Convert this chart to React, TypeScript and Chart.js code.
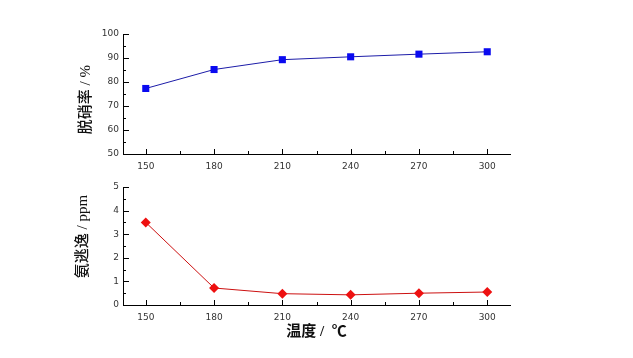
import React, { useEffect, useRef } from "react";
import { Chart, registerables } from "chart.js";

Chart.register(...registerables);

const temps = [150, 180, 210, 240, 270, 300];
const denitration = [77.3, 85.2, 89.3, 90.5, 91.6, 92.6];
const ammoniaSlip = [3.5, 0.72, 0.48, 0.43, 0.5, 0.55];
const xTickLabels = [150, 180, 210, 240, 270, 300];
const topYTickLabels = [50, 60, 70, 80, 90, 100];
const bottomYTickLabels = [0, 1, 2, 3, 4, 5];

const W = 633;
const TICK_FONT = { family: "'DejaVu Sans', sans-serif", size: 9 };
const TITLE_FONT = { family: "'Liberation Serif', 'Noto Sans CJK SC', serif", size: 15, weight: "500" as any };

function withMinor(major: number[]) {
  const out: number[] = [];
  for (let i = 0; i < major.length; i++) {
    out.push(major[i]);
    if (i < major.length - 1) out.push((major[i] + major[i + 1]) / 2);
  }
  return out;
}

const inwardTicks = {
  id: "inwardTicks",
  afterDraw(chart: any, _args: any, opts: any) {
    const ctx = chart.ctx;
    const area = chart.chartArea;
    ctx.save();
    ctx.strokeStyle = "#000";
    ctx.lineWidth = 1;
    const xs = chart.scales.x;
    for (const t of xs.ticks) {
      const px = Math.round(xs.getPixelForValue(t.value)) + 0.5;
      const len = opts.xMajor.includes(t.value) ? 5 : 3;
      ctx.beginPath();
      ctx.moveTo(px, area.bottom);
      ctx.lineTo(px, area.bottom - len);
      ctx.stroke();
    }
    const ys = chart.scales.y;
    for (const t of ys.ticks) {
      const py = Math.round(ys.getPixelForValue(t.value)) + 0.5;
      const len = opts.yMajor.includes(t.value) ? 6 : 3;
      ctx.beginPath();
      ctx.moveTo(area.left, py);
      ctx.lineTo(area.left + len, py);
      ctx.stroke();
    }
    ctx.restore();
  },
};

function makeConfig(opts: {
  data: number[];
  yMajor: number[];
  yMin: number;
  yMax: number;
  yTitle: string;
  xTitle?: string;
  lineColor: string;
  pointColor: string;
  pointStyle: string;
  pointRadius: number;
  padding: any;
  xHeight: number;
}) {
  const yTicksAll = withMinor(opts.yMajor);
  const xTicksAll = withMinor(xTickLabels);
  return {
    type: "line" as const,
    data: {
      datasets: [
        {
          data: temps.map((t, i) => ({ x: t, y: opts.data[i] })),
          borderColor: opts.lineColor,
          borderWidth: 1,
          backgroundColor: opts.pointColor,
          pointBackgroundColor: opts.pointColor,
          pointBorderColor: opts.pointColor,
          pointBorderWidth: 0,
          pointStyle: opts.pointStyle,
          pointRadius: opts.pointRadius,
          tension: 0,
        },
      ],
    },
    options: {
      animation: false,
      responsive: false,
      maintainAspectRatio: false,
      layout: { padding: opts.padding },
      plugins: {
        legend: { display: false },
        tooltip: { enabled: false },
        inwardTicks: { xMajor: xTickLabels, yMajor: opts.yMajor },
      },
      scales: {
        x: {
          type: "linear",
          min: 140,
          max: 310,
          afterBuildTicks: (s: any) => {
            s.ticks = xTicksAll.map((v) => ({ value: v }));
          },
          afterFit: (s: any) => {
            s.height = opts.xHeight;
          },
          grid: { display: false, drawTicks: false },
          border: { display: true, color: "#000", width: 1 },
          ticks: {
            autoSkip: false,
            maxRotation: 0,
            padding: 7,
            color: "#333",
            font: TICK_FONT,
            callback: (v: any) => (xTickLabels.includes(v) ? String(v) : ""),
          },
          title: opts.xTitle
            ? {
                display: true,
                text: opts.xTitle,
                color: "#111",
                font: { ...TITLE_FONT, weight: "bold" },
                padding: { top: 0, bottom: 0 },
              }
            : { display: false },
        },
        y: {
          type: "linear",
          min: opts.yMin,
          max: opts.yMax,
          afterBuildTicks: (s: any) => {
            s.ticks = yTicksAll.map((v) => ({ value: v }));
          },
          afterFit: (s: any) => {
            s.width = 123 - opts.padding.left;
          },
          grid: { display: false, drawTicks: false },
          border: { display: true, color: "#000", width: 1 },
          ticks: {
            autoSkip: false,
            padding: 4,
            color: "#333",
            font: TICK_FONT,
            callback: (v: any) => (opts.yMajor.includes(v) ? String(v) : ""),
          },
          title: {
            display: true,
            text: opts.yTitle,
            color: "#111",
            font: TITLE_FONT,
            padding: { top: 0, bottom: 0 },
          },
        },
      },
    },
    plugins: [inwardTicks],
  };
}

export default function App() {
  const topRef = useRef<HTMLCanvasElement>(null);
  const botRef = useRef<HTMLCanvasElement>(null);

  useEffect(() => {
    const top = new Chart(
      topRef.current!,
      makeConfig({
        data: denitration,
        yMajor: topYTickLabels,
        yMin: 50,
        yMax: 100,
        yTitle: "脱硝率 / %   ",
        lineColor: "#1c1ca8",
        pointColor: "#0a0af0",
        pointStyle: "rect",
        pointRadius: 5,
        padding: { left: 77, top: 34, right: W - 510, bottom: 0 },
        xHeight: 26,
      }) as any
    );
    const bot = new Chart(
      botRef.current!,
      makeConfig({
        data: ammoniaSlip,
        yMajor: bottomYTickLabels,
        yMin: 0,
        yMax: 5,
        yTitle: "     氨逃逸 / ppm",
        xTitle: "温度 /  ℃",
        lineColor: "#cc1010",
        pointColor: "#ee1010",
        pointStyle: "rectRot",
        pointRadius: 5,
        padding: { left: 74, top: 12, right: W - 510, bottom: 17 },
        xHeight: 36,
      }) as any
    );
    return () => {
      top.destroy();
      bot.destroy();
    };
  }, []);

  return (
    <div style={{ position: "absolute", left: 0, top: 0, width: W, height: 358, background: "#fff" }}>
      <canvas ref={topRef} width={W} height={180} style={{ position: "absolute", left: 0, top: 0 }} />
      <canvas ref={botRef} width={W} height={183} style={{ position: "absolute", left: 0, top: 175 }} />
    </div>
  );
}
